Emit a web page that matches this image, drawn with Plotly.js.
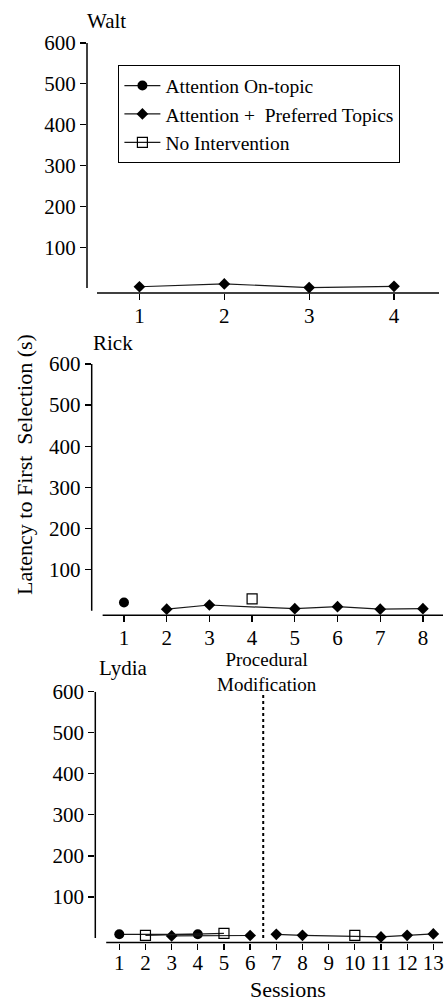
<!DOCTYPE html>
<html>
<head>
<meta charset="utf-8">
<script src="https://cdn.plot.ly/plotly-3.0.1.min.js"></script>
<style>html,body{margin:0;padding:0;background:#fff;}#chart{width:444px;height:1001px;}</style>
</head>
<body>
<div id="chart"></div>
<script>
// ---- data ----
const seriesNames = ["Attention On-topic", "Attention +\u00a0 Preferred Topics", "No Intervention"];
const participants = ["Walt", "Rick", "Lydia"];
const yTickVals = [100, 200, 300, 400, 500, 600];

const waltSessions = [1, 2, 3, 4];
const waltPrefX = [1, 2, 3, 4];
const waltPrefY = [3, 10, 1, 4];

const rickSessions = [1, 2, 3, 4, 5, 6, 7, 8];
const rickOnTopicX = [1];
const rickOnTopicY = [20];
const rickPrefX = [2, 3, 5, 6, 7, 8];
const rickPrefY = [4, 14, 5, 10, 4, 5];
const rickNoIntX = [4];
const rickNoIntY = [29];

const lydiaSessions = [1, 2, 3, 4, 5, 6, 7, 8, 9, 10, 11, 12, 13];
const lydiaOnTopicX = [1, 4];
const lydiaOnTopicY = [9, 9];
const lydiaNoIntX = [2, 5];
const lydiaNoIntY = [6.5, 11];
const lydiaNoIntPostX = [10];
const lydiaNoIntPostY = [6.5];
const lydiaPrefX = [3, 6];
const lydiaPrefY = [5, 6];
const lydiaPrefPostX = [7, 8, 11, 12, 13];
const lydiaPrefPostY = [9, 6.5, 2.5, 6.5, 10];
const phaseChange = 6.5;

// ---- style ----
const W = 444, H = 1001;
const FONT = "'Liberation Serif', 'Times New Roman', serif";
const lineStyle = {color: "#1a1a1a", width: 1.2};
const mk = {
  circle: {symbol: "circle", size: 10, color: "#000"},
  diamond: {symbol: "diamond", size: 9, color: "#000"},
  square: {symbol: "square-open", size: 10, color: "#000", line: {color: "#000", width: 1.2}}
};
function px2x(p) { return p / W; }
function px2y(p) { return 1 - p / H; }

function tr(x, y, ax, marker, name, show, rank) {
  return {
    x: x, y: y, xaxis: "x" + ax, yaxis: "y" + ax, type: "scatter",
    mode: "lines+markers", line: lineStyle, marker: marker,
    name: name, showlegend: show, legendrank: rank, cliponaxis: false
  };
}

const traces = [
  tr(waltPrefX, waltPrefY, "", mk.diamond, seriesNames[1], true, 2),
  tr(rickOnTopicX, rickOnTopicY, "2", mk.circle, seriesNames[0], true, 1),
  tr(rickPrefX, rickPrefY, "2", mk.diamond, seriesNames[1], false, 5),
  tr(rickNoIntX, rickNoIntY, "2", mk.square, seriesNames[2], true, 3),
  tr(lydiaOnTopicX, lydiaOnTopicY, "3", mk.circle, seriesNames[0], false, 6),
  tr(lydiaPrefX, lydiaPrefY, "3", mk.diamond, seriesNames[1], false, 7),
  tr(lydiaNoIntX, lydiaNoIntY, "3", mk.square, seriesNames[2], false, 8),
  tr(lydiaPrefPostX, lydiaPrefPostY, "3", mk.diamond, seriesNames[1], false, 9),
  tr(lydiaNoIntPostX, lydiaNoIntPostY, "3", mk.square, seriesNames[2], false, 10)
];

// panel geometry in pixels
const panels = [
  {l: 87, r: 439, t: 43, b: 293, xr: [0.382, 4.53], yr: [-12.3, 600], ticks: waltSessions, x0: 0.5, so: -2},
  {l: 91.7, r: 443, t: 364, b: 615.3, xr: [0.244, 8.47], yr: [-11, 600], ticks: rickSessions, x0: 0.5, so: -3},
  {l: 95.3, r: 443, t: 691.7, b: 942.5, xr: [0.083, 13.37], yr: [-11, 600], ticks: lydiaSessions, x0: 0.5, so: -5}
];

const layout = {
  width: W, height: H,
  margin: {l: 0, r: 0, t: 0, b: 0},
  paper_bgcolor: "#fff", plot_bgcolor: "rgba(0,0,0,0)",
  font: {family: FONT, size: 21, color: "#000"},
  showlegend: true,
  legend: {
    x: px2x(118), y: px2y(65), xanchor: "left", yanchor: "top",
    bordercolor: "#000", borderwidth: 1.4, bgcolor: "#fff",
    font: {family: FONT, size: 19.5, color: "#000"},
    itemwidth: 36, traceorder: "normal", itemclick: false
  },
  shapes: [], annotations: []
};

panels.forEach((p, i) => {
  const s = i === 0 ? "" : String(i + 1);
  layout["xaxis" + s] = {
    domain: [px2x(p.l), px2x(p.r)], range: p.xr, anchor: "y" + s,
    showgrid: false, zeroline: false, showline: false,
    tickmode: "array", tickvals: p.ticks, ticktext: p.ticks.map(String),
    ticks: "outside", ticklen: 6, tickwidth: 1.3, tickcolor: "#000",
    ticklabelstandoff: p.so,
    tickfont: {family: FONT, size: 21, color: "#000"}, fixedrange: true
  };
  layout["yaxis" + s] = {
    domain: [px2y(p.b), px2y(p.t)], range: p.yr, anchor: "x" + s,
    showgrid: false, zeroline: false, showline: false,
    tickmode: "array", tickvals: yTickVals, ticktext: yTickVals.map(String),
    ticks: "outside", ticklen: 6, tickwidth: 1.3, tickcolor: "#000",
    tickfont: {family: FONT, size: 21, color: "#000"}, fixedrange: true
  };
  layout.shapes.push({type: "line", xref: "x" + s + " domain", yref: "y" + s,
    x0: 0, x1: 0, y0: 0, y1: 600, line: {color: "#000", width: 1.5}});
  layout.shapes.push({type: "line", xref: "x" + s, yref: "y" + s + " domain",
    x0: p.x0, x1: p.xr[1], y0: 0, y1: 0, line: {color: "#000", width: 1.5}});
});

layout.shapes.push({type: "line", xref: "x3", yref: "y3", x0: phaseChange, x1: phaseChange,
  y0: 0, y1: 600, line: {color: "#000", width: 2, dash: "dot"}});

const namePos = [[85, 21.5], [90.7, 342.5], [97.3, 668]];
participants.forEach((n, i) => {
  layout.annotations.push({text: n, xref: "paper", yref: "paper",
    x: px2x(namePos[i][0]), y: px2y(namePos[i][1]), xanchor: "left", yanchor: "middle",
    showarrow: false, font: {family: FONT, size: 21, color: "#000"}});
});

layout.annotations.push({text: "Procedural<br>Modification", xref: "paper", yref: "paper",
  x: px2x(267), y: px2y(672), xanchor: "center", yanchor: "middle", showarrow: false,
  font: {family: FONT, size: 19, color: "#000"}});

layout.annotations.push({text: "Latency to First\u00a0 Selection (s)", xref: "paper", yref: "paper",
  x: px2x(25), y: px2y(465), xanchor: "center", yanchor: "middle", textangle: -90, showarrow: false,
  font: {family: FONT, size: 22, color: "#000"}});

layout.annotations.push({text: "Sessions", xref: "paper", yref: "paper",
  x: px2x(288), y: px2y(989), xanchor: "center", yanchor: "middle", showarrow: false,
  font: {family: FONT, size: 22, color: "#000"}});

Plotly.newPlot("chart", traces, layout, {displayModeBar: false, staticPlot: true});
</script>
</body>
</html>
